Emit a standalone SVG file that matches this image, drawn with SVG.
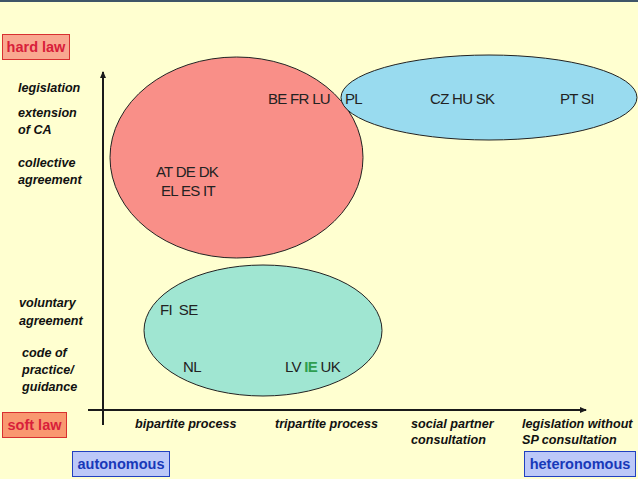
<svg xmlns="http://www.w3.org/2000/svg" width="638" height="479" viewBox="0 0 638 479">
<defs>
<style>
.ax{font-family:"Liberation Sans",Arial,sans-serif;font-size:12.6px;font-weight:bold;font-style:italic;fill:#111}
.ct{font-family:"Liberation Sans",Arial,sans-serif;font-size:15px;fill:#222;letter-spacing:-0.7px}
.lbl{font-family:"Liberation Sans",Arial,sans-serif;font-size:14.5px;font-weight:bold}
.ln{stroke:#1a1a1a;stroke-width:2;fill:none}
</style>
<marker id="ah" markerWidth="8" markerHeight="8" refX="6" refY="4" orient="auto" markerUnits="userSpaceOnUse">
<path d="M0,1 L7,4 L0,7 Z" fill="#1a1a1a"/>
</marker>
</defs>
<rect width="638" height="479" fill="#FFFFD0"/>
<rect width="638" height="2" fill="#3f5567"/>
<g id="connectors">
<line class="ln" x1="103" y1="425" x2="103" y2="72" marker-end="url(#ah)"/>
<line class="ln" x1="88" y1="410" x2="586" y2="410" marker-end="url(#ah)"/>
</g>
<g id="red-ellipse">
<ellipse cx="236.5" cy="157.5" rx="126.5" ry="100.5" fill="#F98F88" stroke="#222" stroke-width="1"/>
<text class="ct" x="268" y="104">BE FR LU</text>
<text class="ct" x="187" y="177" text-anchor="middle">AT DE DK</text>
<text class="ct" x="188" y="196" text-anchor="middle">EL ES IT</text>
</g>
<g id="blue-ellipse">
<ellipse cx="489" cy="97.5" rx="148" ry="42.5" fill="#99DBEF" stroke="#222" stroke-width="1"/>
<text class="ct" x="345" y="104">PL</text>
<text class="ct" x="430" y="104">CZ HU SK</text>
<text class="ct" x="560" y="104">PT SI</text>
</g>
<g id="teal-ellipse">
<ellipse cx="263" cy="330.5" rx="119" ry="65.5" fill="#A0E6D2" stroke="#222" stroke-width="1"/>
<text class="ct" x="160" y="315">FI&#160; SE</text>
<text class="ct" x="183" y="372">NL</text>
<text class="ct" x="285" y="372">LV <tspan fill="#2E9E50" font-weight="bold">IE</tspan> UK</text>
</g>
<g id="y-labels">
<text class="ax" x="18" y="92">legislation</text>
<text class="ax" x="18" y="117">extension</text>
<text class="ax" x="18" y="134">of CA</text>
<text class="ax" x="18" y="167">collective</text>
<text class="ax" x="18" y="184">agreement</text>
<text class="ax" x="19" y="307">voluntary</text>
<text class="ax" x="19" y="325">agreement</text>
<text class="ax" x="22" y="357">code of</text>
<text class="ax" x="22" y="374">practice/</text>
<text class="ax" x="22" y="391">guidance</text>
</g>
<g id="x-labels">
<text class="ax" x="135" y="428">bipartite process</text>
<text class="ax" x="275" y="428">tripartite process</text>
<text class="ax" x="411" y="428">social partner</text>
<text class="ax" x="411" y="444">consultation</text>
<text class="ax" x="522" y="428">legislation without</text>
<text class="ax" x="522" y="444">SP consultation</text>
</g>
<g id="hard-law">
<rect x="2.5" y="34.5" width="67" height="25" fill="#F9A890" stroke="#D83030" stroke-width="1"/>
<text class="lbl" x="36" y="52" text-anchor="middle" fill="#D8203A">hard law</text>
</g>
<g id="soft-law">
<rect x="2.5" y="412.5" width="64" height="25" fill="#F99870" stroke="#D83030" stroke-width="1"/>
<text class="lbl" x="34.5" y="430" text-anchor="middle" fill="#D8203A">soft law</text>
</g>
<g id="autonomous">
<rect x="72.5" y="451.5" width="97" height="25" fill="#BCC8F8" stroke="#2040C0" stroke-width="1"/>
<text class="lbl" x="121" y="469" text-anchor="middle" fill="#1838B8">autonomous</text>
</g>
<g id="heteronomous">
<rect x="524.5" y="451.5" width="111" height="25" fill="#BCC8F8" stroke="#2040C0" stroke-width="1"/>
<text class="lbl" x="580" y="469" text-anchor="middle" fill="#1838B8">heteronomous</text>
</g>
</svg>
